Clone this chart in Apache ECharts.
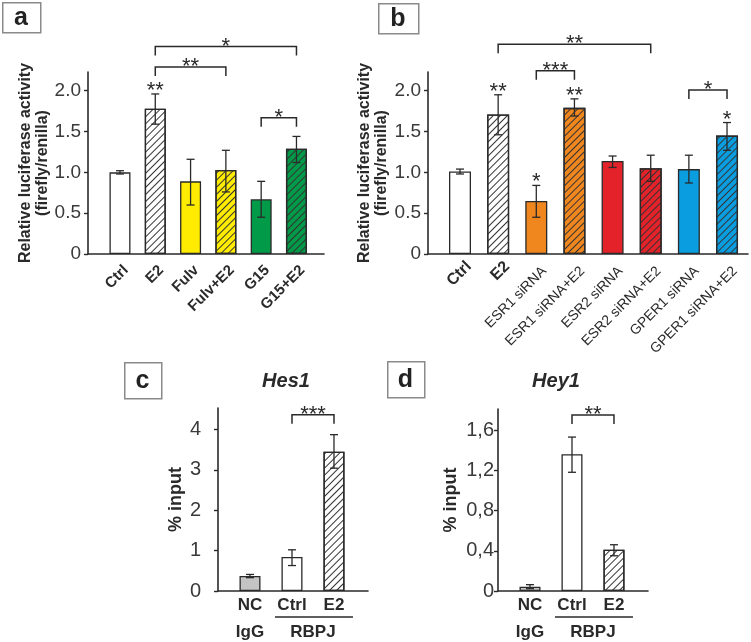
<!DOCTYPE html>
<html>
<head>
<meta charset="utf-8">
<script src="https://cdn.jsdelivr.net/npm/echarts@6/dist/echarts.min.js"></script>
<style>
  html, body { margin: 0; padding: 0; background: #fff; }
  #charts { width: 751px; height: 642px; }
</style>
</head>
<body>
<div id="charts"></div>
<script>
// ---- panel a : luciferase, inhibitors ----
const catsA = ['Ctrl', 'E2', 'Fulv', 'Fulv+E2', 'G15', 'G15+E2'];
const meanA = [1.00, 1.78, 0.89, 1.03, 0.67, 1.29];
const hiA = [1.02, 1.96, 1.16, 1.27, 0.89, 1.44];
const loA = [0.98, 1.59, 0.60, 0.76, 0.45, 1.12];
const sigA = ['', '**', '', '', '', ''];
const bracketsA = [[1, 3, 2.29, '**'], [1, 5, 2.54, '*'], [4, 5, 1.67, '*']];
const ticksA = [0, 0.5, 1.0, 1.5, 2.0];

// ---- panel b : luciferase, siRNA ----
const catsB = ['Ctrl', 'E2', 'ESR1 siRNA', 'ESR1 siRNA+E2', 'ESR2 siRNA', 'ESR2 siRNA+E2', 'GPER1 siRNA', 'GPER1 siRNA+E2'];
const meanB = [1.01, 1.71, 0.65, 1.79, 1.14, 1.05, 1.04, 1.45];
const hiB = [1.04, 1.95, 0.84, 1.90, 1.20, 1.21, 1.21, 1.61];
const loB = [0.98, 1.46, 0.45, 1.69, 1.06, 0.89, 0.87, 1.27];
const sigB = ['', '**', '*', '**', '', '', '', '*'];
const bracketsB = [[1, 5, 2.57, '**'], [2, 3, 2.245, '***'], [6, 7, 2.01, '*']];
const ticksB = [0, 0.5, 1.0, 1.5, 2.0];

// ---- panel c : ChIP Hes1 ----
const catsC = ['NC', 'Ctrl', 'E2'];
const meanC = [0.37, 0.84, 3.45];
const hiC = [0.41, 1.02, 3.87];
const loC = [0.33, 0.63, 3.04];
const bracketsC = [[1, 2, 4.36, '***']];
const ticksC = [0, 1, 2, 3, 4];

// ---- panel d : ChIP Hey1 ----
const catsD = ['NC', 'Ctrl', 'E2'];
const meanD = [0.043, 1.36, 0.41];
const hiD = [0.063, 1.53, 0.46];
const loD = [0.023, 1.18, 0.35];
const bracketsD = [[1, 2, 1.75, '**']];
const ticksD = [0, 0.4, 0.8, 1.2, 1.6];

const groupsCD = [['IgG', 0, 0], ['RBPJ', 1, 2]];

const FONT = '"Liberation Sans", Arial, sans-serif';
const INK = '#2a2a2a';
const YELLOW = '#ffec00', GREEN = '#009a48', ORANGE = '#f0861e', RED = '#e3222a', BLUE = '#0a9de0';

const fillA = ['#fff', '#fff', YELLOW, YELLOW, GREEN, GREEN];
const hatchA = [0, 1, 0, 1, 0, 1];
const fillB = ['#fff', '#fff', ORANGE, ORANGE, RED, RED, BLUE, BLUE];
const hatchB = [0, 1, 0, 1, 0, 1, 0, 1];
const fillCD = ['#c4c4c4', '#fff', '#fff'];
const hatchCD = [0, 0, 1];

// thin "/" stripes
const hatchDecal = {
  symbol: 'rect', symbolSize: 1, color: '#333',
  dashArrayX: [1, 0], dashArrayY: [1, 3.8], rotation: -Math.PI / 4
};

function bars(idx, means, fills, hatched, width) {
  return {
    type: 'bar', xAxisIndex: idx, yAxisIndex: idx, barWidth: width, silent: true, z: 2,
    data: means.map((v, i) => ({
      value: [i, v],
      itemStyle: Object.assign({ color: fills[i], borderColor: INK, borderWidth: 1.3 },
        hatched[i] ? { decal: hatchDecal } : {})
    }))
  };
}

function errorBars(idx, lo, hi) {
  return {
    type: 'custom', xAxisIndex: idx, yAxisIndex: idx, silent: true, z: 5,
    data: lo.map((l, i) => [i, l, hi[i]]),
    renderItem: (params, api) => {
      const t = api.coord([api.value(0), api.value(2)]);
      const b = api.coord([api.value(0), api.value(1)]);
      const s = { stroke: INK, lineWidth: 1.3 };
      return { type: 'group', children: [
        { type: 'line', shape: { x1: t[0], y1: t[1], x2: b[0], y2: b[1] }, style: s },
        { type: 'line', shape: { x1: t[0] - 4, y1: t[1], x2: t[0] + 4, y2: t[1] }, style: s },
        { type: 'line', shape: { x1: b[0] - 4, y1: b[1], x2: b[0] + 4, y2: b[1] }, style: s }
      ] };
    }
  };
}

function stars(idx, hi, sig) {
  return {
    type: 'custom', xAxisIndex: idx, yAxisIndex: idx, silent: true, z: 6,
    data: hi.map((h, i) => [i, h]),
    renderItem: (params, api) => {
      const p = api.coord([api.value(0), api.value(1)]);
      return { type: 'text', x: p[0], y: p[1] + 8, style: {
        text: sig[params.dataIndex], align: 'center', verticalAlign: 'bottom',
        font: '22px ' + FONT, fill: INK } };
    }
  };
}

function brackets(idx, list) {
  return {
    type: 'custom', xAxisIndex: idx, yAxisIndex: idx, silent: true, z: 6,
    data: list.map(b => [b[0], b[1], b[2]]),
    renderItem: (params, api) => {
      const a = api.coord([api.value(0), api.value(2)]);
      const b = api.coord([api.value(1), api.value(2)]);
      const s = { stroke: INK, lineWidth: 1.5, fill: null };
      return { type: 'group', children: [
        { type: 'polyline', shape: { points: [[a[0], a[1] + 9], a, b, [b[0], b[1] + 9]] }, style: s },
        { type: 'text', x: (a[0] + b[0]) / 2, y: a[1] + 11, style: {
          text: list[params.dataIndex][3], align: 'center', verticalAlign: 'bottom',
          font: '22px ' + FONT, fill: INK } }
      ] };
    }
  };
}

// rotated category labels under panels a and b
function slantLabels(idx, cats, fontFor) {
  return {
    type: 'custom', xAxisIndex: idx, yAxisIndex: idx, silent: true,
    data: cats.map((c, i) => [i, 0]),
    renderItem: (params, api) => {
      const p = api.coord([api.value(0), 0]);
      const f = fontFor(cats[params.dataIndex]);
      return { type: 'text', x: p[0] + f.dx, y: p[1] + f.dy, rotation: Math.PI / 4, style: {
        text: cats[params.dataIndex], align: 'right', verticalAlign: 'middle',
        font: f.font, fill: INK } };
    }
  };
}

// flat labels + group row under panels c and d
function flatLabels(idx, cats, groups) {
  return {
    type: 'custom', xAxisIndex: idx, yAxisIndex: idx, silent: true,
    data: groups.map(g => [g[1], g[2]]),
    renderItem: (params, api) => {
      const g = groups[params.dataIndex];
      const a = api.coord([api.value(0), 0]);
      const b = api.coord([api.value(1), 0]);
      const kids = [];
      for (let i = g[1]; i <= g[2]; i++) {
        const p = api.coord([i, 0]);
        kids.push({ type: 'text', x: p[0], y: p[1] + 14, style: {
          text: cats[i], align: 'center', verticalAlign: 'middle',
          font: 'bold 17px ' + FONT, fill: INK } });
      }
      if (g[2] > g[1]) {
        kids.push({ type: 'line', shape: { x1: a[0] - 17, y1: a[1] + 26, x2: b[0] + 19, y2: b[1] + 26 },
          style: { stroke: INK, lineWidth: 1.3 } });
      }
      kids.push({ type: 'text', x: (a[0] + b[0]) / 2, y: a[1] + 41, style: {
        text: g[0], align: 'center', verticalAlign: 'middle',
        font: 'bold 17px ' + FONT, fill: INK } });
      return { type: 'group', children: kids };
    }
  };
}

function xAxis(idx, min, max) {
  return {
    type: 'value', gridIndex: idx, min: min, max: max,
    axisLine: { show: true, onZero: false, lineStyle: { color: INK, width: 1.6 } },
    axisTick: { show: false }, axisLabel: { show: false }, splitLine: { show: false }
  };
}

function yAxis(idx, max, ticks, fmt, size, margin, name, gap, nameSize) {
  return {
    type: 'value', gridIndex: idx, min: 0, max: max,
    axisLine: { show: true, onZero: false, lineStyle: { color: INK, width: 1.6 } },
    axisTick: { show: true, length: 4, customValues: ticks, lineStyle: { color: INK, width: 1.4 } },
    axisLabel: { customValues: ticks, formatter: fmt, fontFamily: FONT, fontSize: size, color: '#3a3a3a', margin: margin },
    splitLine: { show: false },
    name: name, nameLocation: 'middle', nameGap: gap, nameRotate: 90,
    nameTextStyle: { fontFamily: FONT, fontSize: nameSize, fontWeight: 'bold', color: INK, lineHeight: 17 }
  };
}

const fmtDot = v => (v === 0 ? '0' : v.toFixed(1));
const fmtComma = v => (v === 0 ? '0' : v.toFixed(1).replace('.', ','));
const fmtInt = v => String(v);

const lucName = 'Relative luciferase activity\n(firefly/renilla)';

function panelBox(x, y, w, h, t) {
  return [
    { type: 'rect', left: x, top: y, shape: { width: w, height: h },
      style: { fill: '#fff', stroke: '#8a8a8a', lineWidth: 1.5 } },
    { type: 'text', x: x + w / 2, y: y + h / 2 + 1, style: {
      text: t, align: 'center', verticalAlign: 'middle', font: 'bold 25px ' + FONT, fill: '#222' } }
  ];
}

const option = {
  backgroundColor: '#fff',
  animation: false,
  grid: [
    { left: 88, top: 72, width: 236, height: 182 },
    { left: 428, top: 72, width: 320, height: 182 },
    { left: 218, top: 408, width: 150, height: 183 },
    { left: 498, top: 409, width: 150, height: 182 }
  ],
  xAxis: [
    xAxis(0, -0.906, 5.78),
    xAxis(1, -0.839, 7.55),
    xAxis(2, -0.762, 2.81),
    xAxis(3, -0.762, 2.81)
  ],
  yAxis: [
    yAxis(0, 2.229, ticksA, fmtDot, 19, 7, lucName, 30, 16),
    yAxis(1, 2.229, ticksB, fmtDot, 19, 7, lucName, 38, 16),
    yAxis(2, 4.53, ticksC, fmtInt, 20, 17, '% input', 33, 18),
    yAxis(3, 1.809, ticksD, fmtComma, 20, 4, '% input', 38, 18)
  ],
  graphic: [].concat(
    panelBox(2, 2, 38, 30, 'a'),
    panelBox(378, 3, 40, 30, 'b'),
    panelBox(124, 362, 37, 36, 'c'),
    panelBox(387, 361, 37, 36, 'd'),
    [
      { type: 'text', x: 286, y: 381, style: { text: 'Hes1', align: 'center', verticalAlign: 'middle',
        font: 'italic bold 20px ' + FONT, fill: INK } },
      { type: 'text', x: 556, y: 381, style: { text: 'Hey1', align: 'center', verticalAlign: 'middle',
        font: 'italic bold 20px ' + FONT, fill: INK } }
    ]
  ),
  series: [
    bars(0, meanA, fillA, hatchA, 21),
    errorBars(0, loA, hiA),
    stars(0, hiA, sigA),
    brackets(0, bracketsA),
    slantLabels(0, catsA, () => ({ font: 'bold 15px ' + FONT, dx: 6, dy: 14 })),

    bars(1, meanB, fillB, hatchB, 22),
    errorBars(1, loB, hiB),
    stars(1, hiB, sigB),
    brackets(1, bracketsB),
    slantLabels(1, catsB, c => (c.indexOf('siRNA') >= 0
      ? { font: '14px ' + FONT, dx: 8, dy: 15 }
      : { font: 'bold 16px ' + FONT, dx: 9, dy: 10 })),

    bars(2, meanC, fillCD, hatchCD, 21),
    errorBars(2, loC, hiC),
    brackets(2, bracketsC),
    flatLabels(2, catsC, groupsCD),

    bars(3, meanD, fillCD, hatchCD, 21),
    errorBars(3, loD, hiD),
    brackets(3, bracketsD),
    flatLabels(3, catsD, groupsCD)
  ]
};

const chart = echarts.init(document.getElementById('charts'));
chart.setOption(option);
</script>
</body>
</html>
